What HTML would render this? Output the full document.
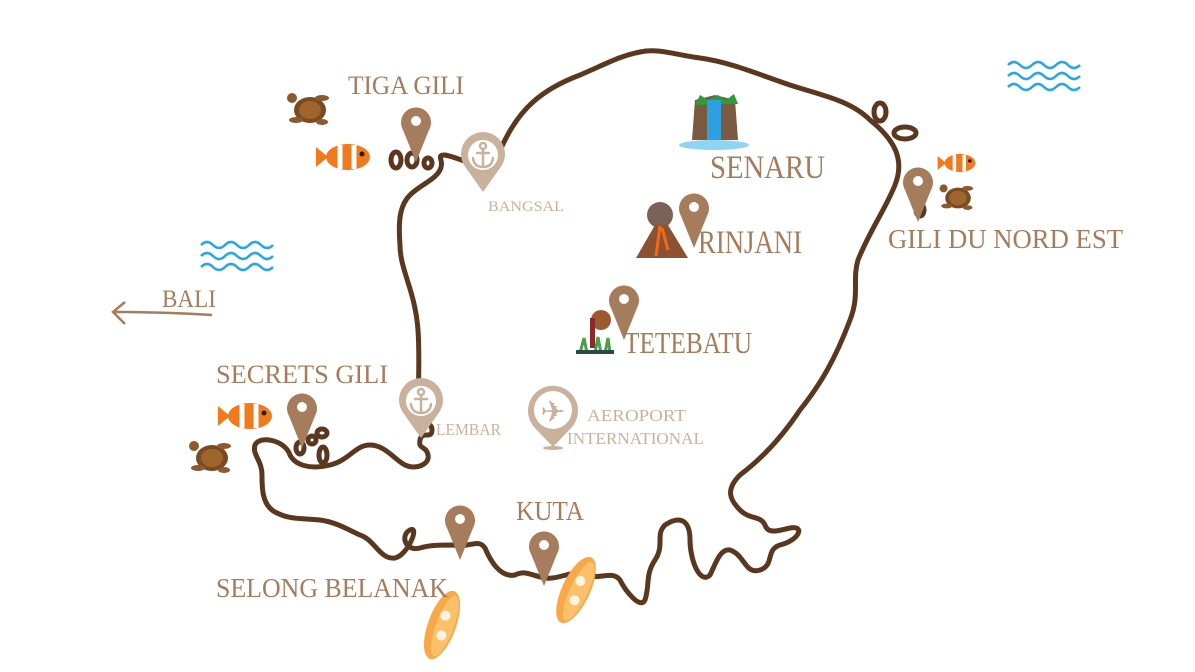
<!DOCTYPE html>
<html><head><meta charset="utf-8"><style>html,body{margin:0;padding:0;background:#fff}svg{display:block}text{font-family:"Liberation Serif",serif}</style></head>
<body>
<svg width="1195" height="672" viewBox="0 0 1195 672" xmlns="http://www.w3.org/2000/svg">
<defs>
<g id="pin"><path d="M-13,8 A15,15 0 1 1 13,8 L0,40 Z" fill="#a57c5c"/><circle cx="0" cy="-1" r="5" fill="#fff"/></g>
<g id="anchor" fill="none" stroke="#c8b29e" stroke-width="2.5" stroke-linecap="round"><circle cx="0" cy="-10" r="3"/><path d="M0,-7 V10 M-6,-3 H6 M-10,2 Q-9,11 0,11 Q9,11 10,2"/></g>
<g id="wave" fill="none" stroke="#2aa6e0" stroke-width="2.5"><path d="M0,0 q6,-6 12,0 t12,0 t12,0 t12,0 t12,0 t12,0"/><path d="M0,11 q6,-6 12,0 t12,0 t12,0 t12,0 t12,0 t12,0"/><path d="M0,22 q6,-6 12,0 t12,0 t12,0 t12,0 t12,0 t12,0"/></g>
<g id="fish"><ellipse cx="0" cy="0" rx="22" ry="13" fill="#f07a1e"/><path d="M-20,0 L-32,-10 L-32,10Z" fill="#f07a1e"/><path d="M-8,-12 v24 M6,-12 v24" stroke="#fff" stroke-width="5"/><circle cx="14" cy="-3" r="2.5" fill="#222"/></g>
<g id="turtle"><ellipse cx="0" cy="0" rx="16" ry="13" fill="#7a4a22"/><ellipse cx="0" cy="0" rx="11" ry="9" fill="#a0652c"/><circle cx="-18" cy="-12" r="5" fill="#8a5a30"/><ellipse cx="-14" cy="10" rx="7" ry="3" fill="#8a5a30"/><ellipse cx="12" cy="-12" rx="7" ry="3" fill="#8a5a30"/><ellipse cx="12" cy="12" rx="6" ry="3" fill="#8a5a30"/></g>
<g id="surf"><ellipse cx="0" cy="0" rx="14" ry="36" fill="#f7a94a"/><ellipse cx="3" cy="0" rx="9" ry="32" fill="#fbc06a"/><circle cx="0" cy="-10" r="5" fill="#fff" opacity=".8"/><circle cx="3" cy="10" r="5" fill="#fff" opacity=".8"/></g>
</defs>

<path fill="none" stroke="#5a3820" stroke-width="5" stroke-linejoin="round" stroke-linecap="round" d="M505,140 C520,110 540,90 580,75 C610,62 620,56 640,52 C660,48 675,55 700,58 C730,62 760,75 790,85 C820,95 850,100 870,120 C895,140 905,160 895,185 C885,210 870,230 858,260 C852,280 860,295 850,320 C835,360 820,385 800,410 C780,440 760,460 740,475 C725,490 730,500 740,510 C750,520 760,515 765,525 C768,535 780,530 790,528 C805,525 800,540 780,545 C765,550 775,565 760,570 C745,575 745,555 730,550 C720,548 715,565 710,575 C700,585 690,560 690,540 C690,520 680,515 665,525 C655,535 665,545 655,560 C645,575 650,585 645,600 C640,610 625,590 620,580 C612,570 600,580 590,575 C575,568 560,580 545,578 C530,575 525,570 515,575 C500,578 490,560 485,548 C478,538 470,548 455,545 C440,545 430,545 420,548 C405,552 400,535 410,530 C420,525 408,555 395,558 C380,560 375,540 360,535 C345,528 335,522 320,520 C300,518 290,520 275,512 C262,505 262,488 262,475 C262,460 252,455 255,445 C260,435 285,440 290,455 C295,465 310,470 330,465 C350,460 355,445 370,445 C385,445 395,460 405,465 C415,470 430,465 428,455 C426,445 418,450 420,440 C422,430 432,440 432,430 C432,420 418,425 418,410 C418,390 420,360 418,330 C415,290 400,270 400,245 C398,220 400,205 410,195 C420,185 435,180 440,170 C445,160 435,155 445,155 C460,158 470,165 480,165 C495,165 500,150 505,140 Z"/>
<g fill="none" stroke="#5a3820" stroke-width="5">
<ellipse cx="396" cy="160" rx="5" ry="8"/><ellipse cx="412" cy="160" rx="5" ry="7"/><ellipse cx="428" cy="163" rx="4" ry="5"/>
<ellipse cx="880" cy="112" rx="6" ry="9"/><ellipse cx="905" cy="133" rx="11" ry="6"/><ellipse cx="920" cy="210" rx="4" ry="6"/>
<ellipse cx="300" cy="448" rx="4" ry="6"/><ellipse cx="312" cy="440" rx="4" ry="4"/><ellipse cx="322" cy="433" rx="5" ry="4"/><ellipse cx="323" cy="455" rx="4" ry="8"/>
</g>

<use href="#wave" x="1008" y="65"/>
<use href="#wave" x="201" y="245"/>

<path d="M212,315 Q160,312 115,312 M125,302 L113,312 L125,324" fill="none" stroke="#a57c5c" stroke-width="2.5"/>

<g fill="#c8b29e">
<path d="M466,168 A22,22 0 1 1 500,168 L483,192 Z"/><circle cx="483" cy="155" r="15" fill="#fff"/>
<path d="M404,414 A22,22 0 1 1 438,414 L421,438 Z"/><circle cx="421" cy="401" r="15" fill="#fff"/>
<path d="M534,427 A25,25 0 1 1 572,427 L553,447 Z"/><circle cx="553" cy="410" r="19" fill="#fff"/>
<ellipse cx="553" cy="448" rx="10" ry="2"/>
</g>
<use href="#anchor" x="483" y="156"/>
<use href="#anchor" x="421" y="402"/>
<text x="553" y="422" font-size="30" text-anchor="middle" fill="#c8b29e">✈</text>

<use href="#pin" x="416" y="122"/><use href="#pin" x="694" y="208"/><use href="#pin" x="624" y="300"/>
<use href="#pin" x="918" y="182"/><use href="#pin" x="302" y="408"/><use href="#pin" x="460" y="520"/><use href="#pin" x="544" y="546"/>

<use href="#turtle" x="310" y="110"/><use href="#fish" x="348" y="157"/>
<use href="#fish" x="250" y="416"/><use href="#turtle" x="212" y="458"/>
<use href="#fish" x="960" y="163" transform="translate(960 163) scale(0.7) translate(-960 -163)"/>
<use href="#turtle" x="958" y="198" transform="translate(958 198) scale(0.8) translate(-958 -198)"/>
<use href="#surf" x="442" y="625" transform="rotate(20 442 625)"/>
<use href="#surf" x="576" y="590" transform="rotate(25 576 590)"/>
<path d="M692,140 L695,100 L715,95 L735,100 L738,140Z" fill="#7a5a40"/><path d="M695,105 l5,-10 l8,5 l10,-5 l8,5 l8,-6 l4,10" fill="#2f9a3a"/>
<rect x="707" y="100" width="14" height="40" fill="#2ea0e0"/><ellipse cx="714" cy="145" rx="35" ry="5" fill="#8fd4f2"/>
<circle cx="660" cy="215" r="13" fill="#7a6258"/><path d="M636,258 L655,225 L668,225 L688,258Z" fill="#8a5230"/><path d="M660,226 l-4,30 M662,228 l6,22" stroke="#f06a1a" stroke-width="3"/>
<circle cx="601" cy="320" r="10" fill="#9a5a32"/><rect x="590" y="318" width="5" height="30" fill="#8a2a2a"/><path d="M580,353 l4,-15 l3,15 M595,353 l3,-16 l3,16 M605,353 l3,-15 l2,15" stroke="#4aa04a" stroke-width="3" fill="none"/><rect x="576" y="350" width="38" height="4" fill="#2a4a4a"/>

<g fill="#a57c5c">
<text x="348" y="94" font-size="26" textLength="116" lengthAdjust="spacingAndGlyphs">TIGA GILI</text>
<text x="710" y="178" font-size="33" textLength="115" lengthAdjust="spacingAndGlyphs">SENARU</text>
<text x="698" y="253" font-size="33" textLength="104" lengthAdjust="spacingAndGlyphs">RINJANI</text>
<text x="888" y="248" font-size="27" textLength="235" lengthAdjust="spacingAndGlyphs">GILI DU NORD EST</text>
<text x="162" y="307" font-size="25" textLength="54" lengthAdjust="spacingAndGlyphs">BALI</text>
<text x="216" y="383" font-size="26" textLength="172" lengthAdjust="spacingAndGlyphs">SECRETS GILI</text>
<text x="624" y="353" font-size="31" textLength="128" lengthAdjust="spacingAndGlyphs">TETEBATU</text>
<text x="516" y="520" font-size="27" textLength="68" lengthAdjust="spacingAndGlyphs">KUTA</text>
<text x="216" y="597" font-size="27" textLength="232" lengthAdjust="spacingAndGlyphs">SELONG BELANAK</text>
</g>
<g fill="#c8b29e">
<text x="488" y="211" font-size="15" textLength="76" lengthAdjust="spacingAndGlyphs">BANGSAL</text>
<text x="436" y="435" font-size="17" textLength="65" lengthAdjust="spacingAndGlyphs">LEMBAR</text>
<text x="587" y="421" font-size="17" textLength="99" lengthAdjust="spacingAndGlyphs">AEROPORT</text>
<text x="567" y="444" font-size="17" textLength="137" lengthAdjust="spacingAndGlyphs">INTERNATIONAL</text>
</g>
</svg>
</body></html>
